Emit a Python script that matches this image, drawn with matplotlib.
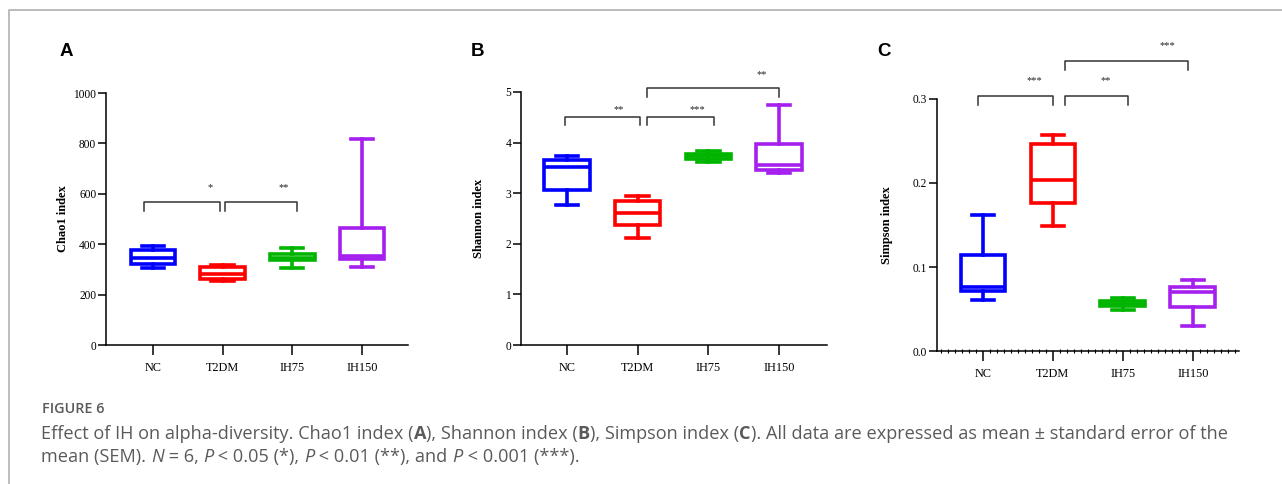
import matplotlib
matplotlib.use("Agg")
import matplotlib.pyplot as plt
from matplotlib.lines import Line2D
from matplotlib.ticker import MultipleLocator

groups = ["NC", "T2DM", "IH75", "IH150"]
colors = ["#0000ff", "#ff0000", "#00b400", "#a520ee"]

# min / q1 / median / q3 / max
chao1_min = [307, 255, 307, 311]
chao1_q1 = [322, 262, 338, 340]
chao1_med = [345, 280, 347, 352]
chao1_q3 = [377, 310, 360, 464]
chao1_max = [393, 318, 384, 817]

shannon_min = [2.76, 2.11, 3.61, 3.40]
shannon_q1 = [3.06, 2.38, 3.68, 3.45]
shannon_med = [3.52, 2.60, 3.73, 3.56]
shannon_q3 = [3.65, 2.85, 3.78, 3.97]
shannon_max = [3.74, 2.95, 3.84, 4.74]

simpson_min = [0.061, 0.149, 0.0485, 0.030]
simpson_q1 = [0.071, 0.176, 0.053, 0.052]
simpson_med = [0.076, 0.203, 0.056, 0.070]
simpson_q3 = [0.114, 0.247, 0.0596, 0.076]
simpson_max = [0.162, 0.257, 0.0636, 0.085]

# significance brackets: (x_left, x_right, y, y_leg, x_star, y_star, label)
chao1_sig = [(-0.13, 0.96, 566, 530, 0.82, 623, "*"),
             (1.04, 2.07, 566, 530, 1.87, 623, "**")]
shannon_sig = [(-0.03, 1.04, 4.50, 4.34, 0.74, 4.66, "**"),
               (1.14, 2.08, 4.50, 4.34, 1.85, 4.66, "***"),
               (1.14, 3.00, 5.07, 4.90, 2.76, 5.35, "**")]
simpson_sig = [(-0.07, 1.00, 0.304, 0.293, 0.73, 0.322, "***"),
               (1.17, 2.07, 0.304, 0.293, 1.76, 0.322, "**"),
               (1.17, 2.93, 0.345, 0.335, 2.64, 0.363, "***")]

W, H = 1282, 484
fig = plt.figure(figsize=(W / 100, H / 100), dpi=100)
serif = "Liberation Serif"


def px_axes(l, r, top, bot):
    return fig.add_axes([l / W, 1 - bot / H, (r - l) / W, (bot - top) / H])


def panel(ax, mins, q1s, meds, q3s, maxs, ylim, yticks, ylabel, sig, xl, xr, fmt,
          label_px):
    stats = [dict(whislo=a, q1=b, med=c, q3=d, whishi=e)
             for a, b, c, d, e in zip(mins, q1s, meds, q3s, maxs)]
    for i, (st, c) in enumerate(zip(stats, colors)):
        ax.bxp([st], positions=[i], widths=0.64, showfliers=False,
               patch_artist=True,
               boxprops=dict(facecolor="white", edgecolor=c, linewidth=2.6),
               medianprops=dict(color=c, linewidth=2.6),
               whiskerprops=dict(color=c, linewidth=2.6),
               capprops=dict(color=c, linewidth=2.6), capwidths=0.32)
    ax.set_xlim(xl, xr)
    ax.set_ylim(*ylim)
    ax.set_yticks(yticks)
    ax.set_yticklabels([fmt(v) for v in yticks], fontfamily=serif, fontsize=8.3)
    ax.set_xticks(range(len(groups)))
    ax.set_xticklabels(groups, fontfamily=serif, fontsize=8.8)
    for s in ["top", "right"]:
        ax.spines[s].set_visible(False)
    for s in ["left", "bottom"]:
        ax.spines[s].set_linewidth(1.1)
    ax.tick_params(axis="y", length=6, width=1.1, pad=1)
    ax.tick_params(axis="x", length=7, width=1.1, pad=5)
    ax.set_ylabel(ylabel, fontfamily=serif, fontweight="bold", fontsize=9)
    w_px = ax.get_position().width * W
    ax.yaxis.set_label_coords(-label_px / w_px, 0.5)
    ax.yaxis.label.set_va("center")
    for x1, x2, y, yl, xs, ys, lab in sig:
        ax.plot([x1, x1, x2, x2], [yl, y, y, yl], color="#333333", lw=1.1,
                clip_on=False)
        ax.text(xs, ys, lab, ha="center", va="center", fontfamily=serif,
                fontsize=7.5, color="#222222")
    ax.set_facecolor("none")


axA = px_axes(106, 408, 93, 345)
panel(axA, chao1_min, chao1_q1, chao1_med, chao1_q3, chao1_max, (0, 1000),
      [0, 200, 400, 600, 800, 1000], "Chao1 index", chao1_sig, -0.674, 3.66,
      lambda v: f"{v:d}", 43)

axB = px_axes(521, 827, 92, 345)
panel(axB, shannon_min, shannon_q1, shannon_med, shannon_q3, shannon_max, (0, 5),
      [0, 1, 2, 3, 4, 5], "Shannon index", shannon_sig, -0.65, 3.68,
      lambda v: f"{v:d}", 42)

axC = px_axes(937, 1239, 99, 351)
panel(axC, simpson_min, simpson_q1, simpson_med, simpson_q3, simpson_max, (0, 0.3),
      [0.0, 0.1, 0.2, 0.3], "Simpson index", simpson_sig, -0.657, 3.66,
      lambda v: f"{v:.1f}", 50)
axC.xaxis.set_minor_locator(MultipleLocator(0.1))
axC.tick_params(axis="x", which="minor", length=3, width=0.8, direction="inout")

# panel letters
for x, lab in [(66, "A"), (477, "B"), (884, "C")]:
    fig.text(x / W, 1 - 52 / H, lab, ha="center", va="center",
             fontfamily="Liberation Sans", fontweight="bold", fontsize=13.5)

# frame lines
fig.add_artist(Line2D([9 / W, 9 / W, 1], [0, 1 - 10 / H, 1 - 10 / H],
                      color="#b0b0b0", lw=1.2, transform=fig.transFigure))

# caption
cap_font = "Open Sans"
cap_col = "#5a5a5a"
fig.text(42 / W, 1 - 413 / H, "FIGURE 6", fontfamily=cap_font, fontweight="semibold",
         fontsize=10.4, color=cap_col, va="baseline")

line1 = [("Effect of IH on alpha-diversity. Chao1 index (", "normal", "normal"),
         ("A", "bold", "normal"), ("), Shannon index (", "normal", "normal"),
         ("B", "bold", "normal"), ("), Simpson index (", "normal", "normal"),
         ("C", "bold", "normal"),
         ("). All data are expressed as mean \u00b1 standard error of the",
          "normal", "normal")]
line2 = [("mean (SEM). ", "normal", "normal"), ("N", "normal", "italic"),
         (" = 6, ", "normal", "normal"), ("P", "normal", "italic"),
         (" < 0.05 (*), ", "normal", "normal"), ("P", "normal", "italic"),
         (" < 0.01 (**), and ", "normal", "normal"), ("P", "normal", "italic"),
         (" < 0.001 (***).", "normal", "normal")]

renderer = fig.canvas.get_renderer()
cap_size = 13.1
for runs, ypx in [(line1, 439), (line2, 462)]:
    x = 41
    for txt, wt, st in runs:
        t = fig.text(x / W, 1 - ypx / H, txt, fontfamily=cap_font, fontweight=wt,
                     fontstyle=st, fontsize=cap_size, color=cap_col, va="baseline")
        x += t.get_window_extent(renderer).width

fig.savefig("out.png", dpi=100)
